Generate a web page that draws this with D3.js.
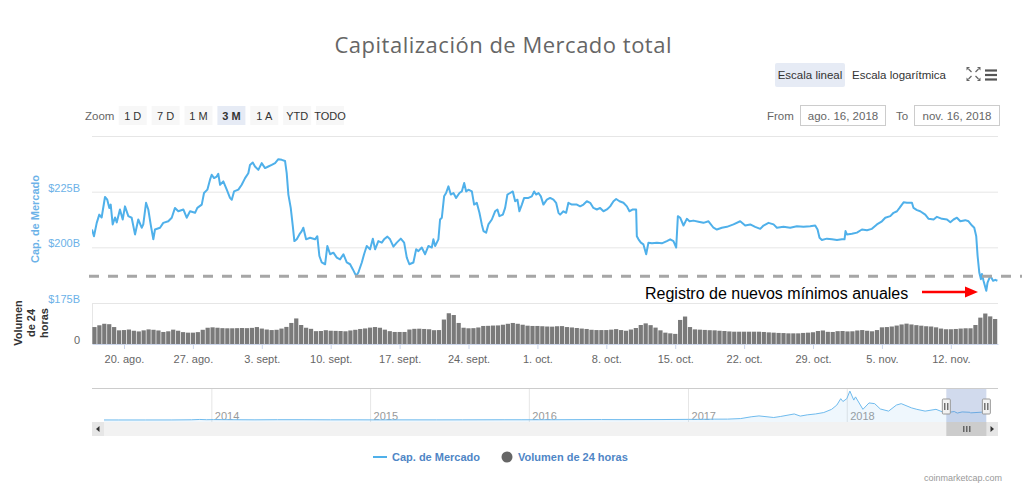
<!DOCTYPE html>
<html><head><meta charset="utf-8">
<script src="https://cdn.jsdelivr.net/npm/d3@7"></script>
<style>
body{margin:0;background:#fff;}
svg{display:block;font-family:"Liberation Sans",Arial,sans-serif;}
</style>
</head><body>
<svg id="c" width="1024" height="501"></svg>
<script>
// ---------------- DATA ----------------
const chartTitle = "Capitalización de Mercado total";
// [days since 2018-08-16 00:00 UTC, market cap in $B]
const capSeries = [[0.75,208.0],[0.95,205],[1.23,211],[1.49,214.7],[1.73,213.4],[2.07,222.6],[2.30,221.4],[2.51,217.7],[2.65,219.2],[2.85,210.3],[3.09,213.4],[3.26,211.2],[3.59,217],[3.87,212.5],[4.10,218.4],[4.44,214],[4.78,213.3],[5.12,205.8],[5.45,212.5],[5.80,208.8],[5.96,210.3],[6.24,220],[6.47,217],[6.71,210.3],[6.98,203.6],[7.15,208],[7.66,208.8],[7.99,211],[8.50,211.7],[8.85,213.3],[9.18,217.7],[9.52,216.2],[10.03,217],[10.37,213.3],[10.71,216.2],[11.22,215.5],[11.45,217.7],[11.90,219.2],[12.13,224.4],[12.47,225.9],[12.74,230.4],[12.91,232.6],[13.15,231.1],[13.42,231.8],[13.58,233],[13.76,228.1],[14.09,229.6],[14.44,225.9],[14.77,222.2],[14.95,221.4],[15.18,225.1],[15.62,225.9],[15.96,228.1],[16.30,231.1],[16.63,233.3],[16.80,237],[17.08,238.1],[17.31,236.3],[17.65,234.8],[17.99,237.8],[18.33,235.6],[18.66,236.3],[19.01,237],[19.35,237.8],[19.68,239.6],[20.03,239.3],[20.36,238.8],[20.53,233.3],[20.70,223.7],[20.94,217.7],[21.15,209.5],[21.31,202.8],[21.55,203.6],[21.82,205.8],[22.06,207.3],[22.22,208.8],[22.50,203.6],[22.90,204.3],[23.41,203.6],[23.64,205],[23.85,196.1],[24.09,193.2],[24.43,192.4],[24.66,200.6],[24.94,196.9],[25.27,197.6],[25.62,195.4],[25.95,194.6],[26.29,196.9],[26.63,193.2],[26.97,192.4],[27.24,190.2],[27.58,187.2],[27.81,188.7],[28.16,193.2],[28.39,196.9],[28.66,200.6],[29.00,199.1],[29.28,203.9],[29.51,199.1],[29.84,202.8],[30.19,202.1],[30.42,203.6],[30.76,204.8],[31.03,203.6],[31.37,200.3],[31.71,202.1],[32.12,203.9],[32.46,202.1],[32.73,195.4],[32.99,192.4],[33.40,193.2],[33.68,199.1],[33.91,198.3],[34.25,199.9],[34.59,196.9],[34.93,200.6],[35.27,199.9],[35.43,203.6],[35.61,200.6],[35.94,203.6],[36.11,212.5],[36.29,213.3],[36.52,222.9],[36.72,224.4],[36.96,227.4],[37.20,223.7],[37.47,224.4],[37.74,222.2],[38.08,224.4],[38.32,225.1],[38.56,228.9],[38.76,225.1],[38.99,225.9],[39.34,225.1],[39.57,219.2],[39.84,220],[40.11,215.5],[40.35,210.3],[40.52,207.3],[40.79,206.6],[41.02,210.3],[41.37,212.5],[41.70,216.2],[41.94,217],[42.14,214],[42.49,214.7],[42.72,217.7],[42.95,223.7],[43.23,224.4],[43.50,225.1],[43.74,220.7],[43.97,221.4],[44.17,216.2],[44.42,219.2],[44.65,222.2],[45.09,222.2],[45.43,222.9],[45.67,225.1],[45.87,223.7],[46.11,224.4],[46.35,222.9],[46.61,219.2],[46.96,221.4],[47.29,222.2],[47.63,221.4],[47.90,220],[48.14,215.5],[48.31,214.7],[48.64,216.2],[48.92,215.5],[49.15,220],[49.50,219.2],[50.01,219.2],[50.34,218.4],[50.68,219.2],[51.02,220.7],[51.36,220],[51.69,217.7],[52.04,217],[52.37,217.7],[52.71,216.2],[53.06,217],[53.39,218.4],[53.73,220.7],[54.00,221.7],[54.34,220.7],[54.74,220],[55.09,218.4],[55.35,216.2],[55.70,217],[56.03,217],[56.10,205],[56.27,203.6],[56.51,202.1],[56.77,201.3],[57.05,196.9],[57.28,202.1],[57.63,201.8],[58.14,202.1],[58.64,201.8],[59.15,202.8],[59.49,203.6],[59.82,202.8],[60.10,199.9],[60.27,214],[60.50,213.3],[60.84,209.8],[61.18,212.8],[61.45,211.7],[61.85,212],[62.36,211.5],[62.87,211],[63.38,211.7],[63.89,208.8],[64.23,208],[64.74,208.8],[65.25,209.2],[65.92,210.3],[66.60,211.7],[67.11,209.8],[67.62,210.3],[68.12,209.2],[68.64,208.3],[68.97,209.8],[69.48,211],[69.99,210.3],[70.33,208.8],[71.00,209.2],[71.68,208.8],[72.36,209.5],[73.03,209.2],[73.71,209.5],[74.22,209.8],[74.46,208],[74.66,204.3],[74.90,203.3],[75.41,203.9],[75.92,203.6],[76.43,203.3],[76.94,203.6],[77.20,203.6],[77.30,207.3],[77.44,205.8],[77.95,206.1],[78.46,206.6],[78.97,208],[79.48,207.7],[79.98,208.3],[80.49,210.3],[81.00,211.7],[81.34,213.3],[81.85,214],[82.18,215.5],[82.53,216.2],[82.79,217.7],[83.03,219.2],[83.20,220.2],[83.54,220],[84.05,220],[84.21,217.7],[84.56,216.7],[84.89,216.2],[85.40,214.7],[85.74,212.8],[86.25,212.5],[86.59,213.7],[87.10,212.8],[87.61,212.5],[87.95,211.3],[88.28,212.5],[88.62,213.3],[88.96,211.7],[89.47,212.2],[89.80,211.7],[90.15,209.8],[90.38,208.8],[90.58,205],[90.72,196.1],[90.89,188.7],[91.06,185.7],[91.16,188],[91.32,185],[91.60,180.5],[91.73,184.2],[92.01,187.2],[92.29,185],[92.52,185.4],[92.73,185]];

// 24h volume in $B, one value every half day starting at day 1.0
const volStartDay = 1.0, volStepDays = 0.5;
const volumeValues = [
12.4,13.7,14.8,14.5,12.4,10.0,10.2,10.6,9.7,9.2,
10.0,10.7,10.4,9.9,8.8,9.3,10.5,9.7,8.7,8.3,
8.3,8.7,10.4,11.9,12.2,11.9,11.6,11.5,11.5,11.6,
11.7,11.6,11.8,12.4,11.3,10.6,10.2,10.4,11.3,12.5,
15.4,18.7,13.9,11.9,11.1,9.4,9.5,10.1,9.7,9.6,
9.5,9.3,9.9,10.4,11.0,11.4,12.0,12.4,11.9,10.5,
9.4,8.8,8.8,8.8,10.6,11.1,11.2,11.0,10.8,10.1,
10.2,17.9,22.5,21.2,15.4,11.9,11.5,11.6,12.1,13.2,
13.3,13.5,13.6,14.1,14.8,15.4,14.8,14.1,13.4,13.2,
13.2,13.0,12.8,12.7,13.0,13.1,12.4,12.1,11.7,11.3,
11.0,10.4,10.2,10.2,10.2,10.5,10.9,10.2,9.7,10.6,
11.7,13.9,15.1,13.8,12.0,10.0,8.3,7.8,7.4,17.6,
20.1,12.4,10.7,10.5,10.3,10.1,10.0,9.7,9.5,9.2,
9.0,9.0,9.0,9.0,9.0,9.0,8.8,8.5,8.3,8.1,
8.0,7.8,7.8,7.8,8.1,8.3,8.6,9.5,9.9,8.9,
8.8,9.4,9.5,9.2,9.3,9.9,10.2,9.7,9.3,10.2,
12.2,12.4,12.8,13.5,14.3,14.9,14.3,13.8,13.4,13.0,
12.8,12.2,11.3,10.8,10.8,11.0,11.3,11.5,11.5,13.9,
19.3,22.3,20.2,18.3];

const tickDates = ["2018-08-20","2018-08-27","2018-09-03","2018-09-10","2018-09-17","2018-09-24","2018-10-01","2018-10-08","2018-10-15","2018-10-22","2018-10-29","2018-11-05","2018-11-12"];
const tickLabels = ["20. ago.","27. ago.","3. sept.","10. sept.","17. sept.","24. sept.","1. oct.","8. oct.","15. oct.","22. oct.","29. oct.","5. nov.","12. nov."];
const capTicks = [175,200,225];
const capGrid = [175,200,225,250];
const volTicks = [0];

// navigator (full history), $B
const navDates = ["2013-04-28","2013-06-01","2013-08-01","2013-10-01","2013-11-15","2013-12-04","2013-12-20","2014-01-05","2014-02-15","2014-04-10","2014-06-01","2014-08-01","2014-10-01","2014-12-01","2015-01-15","2015-03-01","2015-06-01","2015-08-01","2015-11-04","2015-12-15","2016-03-01","2016-06-15","2016-08-01","2016-11-01","2017-01-01","2017-02-01","2017-03-01","2017-04-01","2017-05-01","2017-05-25","2017-06-12","2017-07-16","2017-08-01","2017-09-01","2017-09-15","2017-10-01","2017-10-20","2017-11-08","2017-11-26","2017-12-08","2017-12-17","2017-12-22","2017-12-31","2018-01-07","2018-01-16","2018-01-20","2018-02-06","2018-02-20","2018-03-05","2018-03-18","2018-04-06","2018-04-24","2018-05-05","2018-05-29","2018-06-10","2018-06-29","2018-07-24","2018-08-14","2018-09-04","2018-09-11","2018-09-22","2018-10-10","2018-10-11","2018-11-06","2018-11-14","2018-11-16"];
const navValues = [1.6,1.3,1.2,1.6,6,15,8,11,8,5,8,7.5,5,5,3.3,4,3.8,4.5,7,7,7.5,12,10.5,13,18,19,24,25,40,90,115,70,100,170,110,145,170,210,300,420,600,520,600,813,560,650,300,480,460,310,250,420,460,340,300,250,300,200,238,195,227,217,200,220,195,185];
const navYears = ["2014","2015","2016","2017","2018"];

const rangeButtons = ["1 D","7 D","1 M","3 M","1 A","YTD","TODO"];
const selectedRange = "3 M";
const fromLabel = "ago. 16, 2018", toLabel = "nov. 16, 2018";
const annotationValue = 187;
const annotationText = "Registro de nuevos mínimos anuales";
const legendItems = ["Cap. de Mercado","Volumen de 24 horas"];

// ---------------- LAYOUT ----------------
const svg = d3.select("#c");
const plotL = 92, plotR = 998;
const mainTop = 136, mainBot = 303, volTop = 303, volBot = 344;
const lineColor = "#4fb0ea";
const baseDay = Date.UTC(2018,7,16);
const dayToDate = d => new Date(baseDay + d*864e5);

const x = d3.scaleUtc().domain([new Date(Date.UTC(2018,7,16,18)), new Date(Date.UTC(2018,10,16,19))]).range([plotL, plotR]);
const y = d3.scaleLinear().domain([175,250]).range([mainBot, mainTop]);
const yv = d3.scaleLinear().domain([0,30]).range([volBot, volTop]);

svg.append("defs").append("clipPath").attr("id","plotclip")
  .append("rect").attr("x",plotL).attr("y",mainTop-5).attr("width",plotR-plotL).attr("height",volBot-mainTop+5);

// title
svg.append("text").attr("x",503).attr("y",53).attr("text-anchor","middle")
  .attr("font-family","'Open Sans', sans-serif")
  .attr("font-size",22).attr("fill","#666").attr("textLength",337).attr("lengthAdjust","spacing").text(chartTitle);

// top-right buttons
svg.append("rect").attr("x",775).attr("y",63).attr("width",70).attr("height",24).attr("rx",2).attr("fill","#e6ebf5");
svg.append("text").attr("x",810).attr("y",79).attr("text-anchor","middle").attr("font-size",11.5).attr("fill","#333").text("Escala lineal");
svg.append("text").attr("x",852).attr("y",79).attr("font-size",11.5).attr("fill","#333").text("Escala logarítmica");
// fullscreen icon
const fs = svg.append("g").attr("stroke","#666").attr("stroke-width",1.3).attr("fill","#666");
const fcx = 973.5, fcy = 74;
[[-1,-1],[1,-1],[-1,1],[1,1]].forEach(([sx,sy])=>{
  fs.append("line").attr("x1",fcx+sx*2).attr("y1",fcy+sy*2).attr("x2",fcx+sx*5).attr("y2",fcy+sy*5);
  fs.append("path").attr("stroke","none").attr("d",
    `M${fcx+sx*7},${fcy+sy*7} L${fcx+sx*3.5},${fcy+sy*7} L${fcx+sx*7},${fcy+sy*3.5} Z`);
});
// menu icon
[70.5,75,79.5].forEach(yy=>svg.append("line").attr("x1",985).attr("x2",997).attr("y1",yy).attr("y2",yy)
  .attr("stroke","#555").attr("stroke-width",2.2));

// range selector
svg.append("text").attr("x",85).attr("y",119.5).attr("font-size",11.5).attr("fill","#666").text("Zoom");
const rb = svg.append("g");
rangeButtons.forEach((b,i)=>{
  const bx = 118.7 + i*32.9;
  const sel = b===selectedRange;
  rb.append("rect").attr("x",bx).attr("y",106).attr("width",28).attr("height",19)
    .attr("fill", sel ? "#e6ebf5" : "#f7f7f7");
  rb.append("text").attr("x",bx+14).attr("y",119.5).attr("text-anchor","middle")
    .attr("font-size",11).attr("font-weight", sel?"bold":"normal").attr("fill","#333").text(b);
});
svg.append("text").attr("x",767).attr("y",119.5).attr("font-size",11.5).attr("fill","#666").text("From");
svg.append("rect").attr("x",800.5).attr("y",105.5).attr("width",85).attr("height",20).attr("fill","none").attr("stroke","#ccc");
svg.append("text").attr("x",843).attr("y",119.5).attr("text-anchor","middle").attr("font-size",11.5).attr("fill","#666").text(fromLabel);
svg.append("text").attr("x",896).attr("y",119.5).attr("font-size",11.5).attr("fill","#666").text("To");
svg.append("rect").attr("x",914.5).attr("y",105.5).attr("width",85).attr("height",20).attr("fill","none").attr("stroke","#ccc");
svg.append("text").attr("x",957).attr("y",119.5).attr("text-anchor","middle").attr("font-size",11.5).attr("fill","#666").text(toLabel);

// gridlines
const grid = svg.append("g").attr("transform",`translate(${plotL},0)`)
  .call(d3.axisLeft(y).tickValues(capGrid).tickSize(-(plotR-plotL)).tickFormat(""));
grid.select(".domain").remove();
grid.selectAll("line").attr("stroke","#e6e6e6");

// main y labels
const yAx = svg.append("g").attr("transform",`translate(${plotL},0)`)
  .call(d3.axisLeft(y).tickValues(capTicks).tickSize(0).tickPadding(12).tickFormat(d=>"$"+d+"B"));
yAx.select(".domain").remove();
yAx.selectAll("text").attr("font-size",11).attr("fill","#6cb2e8").attr("font-family","Liberation Sans, Arial").attr("dy","-0.05em");

// volume y label
const vAx = svg.append("g").attr("transform",`translate(${plotL},0)`)
  .call(d3.axisLeft(yv).tickValues(volTicks).tickSize(0).tickPadding(12).tickFormat(d=>String(d)));
vAx.select(".domain").remove();
vAx.selectAll("text").attr("font-size",11).attr("fill","#666").attr("font-family","Liberation Sans, Arial").attr("dy","-0.05em");

// axis titles
svg.append("text").attr("transform","translate(39,219) rotate(-90)").attr("text-anchor","middle")
  .attr("font-size",11).attr("font-weight","bold").attr("fill","#6cb2e8").text("Cap. de Mercado");
["Volumen","de 24","horas"].forEach((t,i)=>{
  svg.append("text").attr("transform",`translate(${22+i*13},${323}) rotate(-90)`).attr("text-anchor","middle")
    .attr("font-size",11).attr("font-weight","bold").attr("fill","#333").text(t);
});

// volume pane left line
svg.append("line").attr("x1",plotL+0.5).attr("x2",plotL+0.5).attr("y1",volTop).attr("y2",volBot).attr("stroke","#e6e6e6");

// volume bars
const stepPx = x(dayToDate(volStepDays)) - x(dayToDate(0));
const barW = stepPx - 0.7;
svg.append("g").attr("clip-path","url(#plotclip)").selectAll("rect").data(volumeValues).join("rect")
  .attr("x",(d,i)=>x(dayToDate(volStartDay + i*volStepDays)) - barW/2)
  .attr("width",barW)
  .attr("y",d=>yv(d)).attr("height",d=>volBot - yv(d))
  .attr("fill","#7a7a7a");

// x axis
const xAx = svg.append("g").attr("transform",`translate(0,${volBot})`)
  .call(d3.axisBottom(x).tickValues(tickDates.map(s=>new Date(s+"T00:00:00Z")))
    .tickFormat((d,i)=>tickLabels[i]).tickSize(5).tickSizeOuter(0).tickPadding(6));
xAx.select(".domain").attr("stroke","#ccd6eb");
xAx.selectAll("line").attr("stroke","#ccd6eb");
xAx.selectAll("text").attr("font-size",11).attr("fill","#666").attr("font-family","Liberation Sans, Arial");

// main line
const line = d3.line().x(d=>x(dayToDate(d[0]))).y(d=>y(d[1]));
svg.append("path").attr("clip-path","url(#plotclip)").datum(capSeries)
  .attr("d",line).attr("fill","none").attr("stroke",lineColor).attr("stroke-width",2).attr("stroke-linejoin","round");

// annotation dashed line
svg.append("line").attr("x1",89).attr("x2",1022).attr("y1",y(annotationValue)).attr("y2",y(annotationValue))
  .attr("stroke","#a6a6a6").attr("stroke-width",3).attr("stroke-dasharray","10,9");
svg.append("text").attr("x",645).attr("y",299).attr("font-size",16).attr("fill","#000").text(annotationText);
svg.append("line").attr("x1",922).attr("x2",968).attr("y1",292).attr("y2",292).attr("stroke","#f00").attr("stroke-width",2.5);
svg.append("path").attr("d","M965,286.5 L978,292 L965,297.5 Z").attr("fill","#f00");

// navigator
const navT = navDates.map(s=>new Date(s+"T00:00:00Z"));
const navX = d3.scaleUtc().domain([navT[0], navT[navT.length-1]]).range([104,986]);
const navY = d3.scaleLinear().domain([0,900]).range([420,388]);
const navTop = 388, navBot = 422;
const nav = svg.append("g");
navYears.forEach(yr=>{
  const xx = navX(new Date(yr+"-01-01T00:00:00Z"));
  nav.append("line").attr("x1",xx).attr("x2",xx).attr("y1",navTop).attr("y2",navBot).attr("stroke","#e6e6e6");
  nav.append("text").attr("x",xx+3).attr("y",420).attr("font-size",11).attr("fill","#999").text(yr);
});
const navData = navT.map((t,i)=>[t,navValues[i]]);
nav.append("path").datum(navData)
  .attr("d",d3.area().x(d=>navX(d[0])).y0(navBot).y1(d=>navY(d[1])))
  .attr("fill","rgba(124,190,240,0.12)");
nav.append("path").datum(navData)
  .attr("d",d3.line().x(d=>navX(d[0])).y(d=>navY(d[1])))
  .attr("fill","none").attr("stroke","#6fbbee").attr("stroke-width",1);
nav.append("line").attr("x1",plotL).attr("x2",plotR).attr("y1",navTop+0.5).attr("y2",navTop+0.5).attr("stroke","#ccc");
const selA = navX(x.domain()[0]), selB = navX(x.domain()[1]);
nav.append("rect").attr("x",selA).attr("y",navTop+1).attr("width",selB-selA).attr("height",navBot-navTop-1)
  .attr("fill","rgba(102,133,194,0.3)");
[selA, selB].forEach(hx=>{
  nav.append("rect").attr("x",hx-4).attr("y",399).attr("width",8).attr("height",15).attr("rx",1)
    .attr("fill","#f2f2f2").attr("stroke","#999");
  nav.append("line").attr("x1",hx-1.5).attr("x2",hx-1.5).attr("y1",403).attr("y2",410).attr("stroke","#333");
  nav.append("line").attr("x1",hx+1.5).attr("x2",hx+1.5).attr("y1",403).attr("y2",410).attr("stroke","#333");
});
// scrollbar
const sb = svg.append("g");
sb.append("rect").attr("x",plotL).attr("y",navBot).attr("width",plotR-plotL).attr("height",14).attr("fill","#f2f2f2");
sb.append("rect").attr("x",plotL).attr("y",navBot).attr("width",12).attr("height",14).attr("fill","#e6e6e6");
sb.append("rect").attr("x",plotR-12).attr("y",navBot).attr("width",12).attr("height",14).attr("fill","#e6e6e6");
sb.append("path").attr("d",`M${plotL+4},429 L${plotL+7.5},426 L${plotL+7.5},432 Z`).attr("fill","#333");
sb.append("path").attr("d",`M${plotR-4},429 L${plotR-7.5},426 L${plotR-7.5},432 Z`).attr("fill","#333");
sb.append("rect").attr("x",selA).attr("y",navBot).attr("width",selB-selA).attr("height",14).attr("fill","#ccc");
const mid = (selA+selB)/2;
[-3,0,3].forEach(o=>sb.append("line").attr("x1",mid+o+0.5).attr("x2",mid+o+0.5).attr("y1",426).attr("y2",432).attr("stroke","#333"));

// legend
svg.append("line").attr("x1",373).attr("x2",387).attr("y1",457).attr("y2",457).attr("stroke",lineColor).attr("stroke-width",2);
svg.append("text").attr("x",392).attr("y",461).attr("font-size",11).attr("font-weight","bold").attr("fill","#4f86c6").text(legendItems[0]);
svg.append("circle").attr("cx",507).attr("cy",457).attr("r",5.5).attr("fill","#666");
svg.append("text").attr("x",518).attr("y",461).attr("font-size",11).attr("font-weight","bold").attr("fill","#4f86c6").text(legendItems[1]);
svg.append("text").attr("x",1002).attr("y",481).attr("text-anchor","end").attr("font-size",9).attr("fill","#999").text("coinmarketcap.com");
</script>
</body></html>
